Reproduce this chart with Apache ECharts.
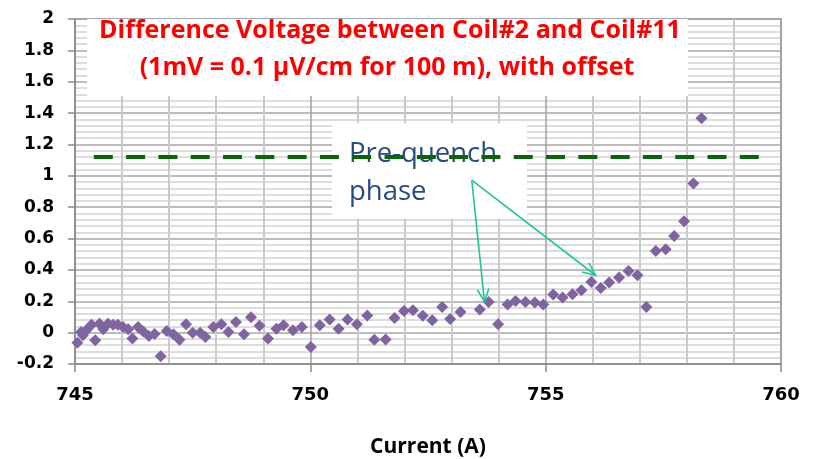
<!DOCTYPE html>
<html>
<head>
<meta charset="utf-8">
<script src="https://cdn.jsdelivr.net/npm/echarts@6/dist/echarts.min.js"></script>
<style>
  html, body { margin: 0; padding: 0; background: #ffffff; }
  #chart { width: 813px; height: 459px; }
</style>
</head>
<body>
<div id="chart"></div>
<script>
// Coil current (A) and difference voltage (mV, offset applied)
const current = [745.05, 745.13, 745.17, 745.24, 745.35, 745.43, 745.52, 745.60, 745.70, 745.81,
  745.91, 746.02, 746.13, 746.22, 746.34, 746.45, 746.57, 746.69, 746.82, 746.95,
  747.09, 747.22, 747.36, 747.50, 747.66, 747.77, 747.94, 748.11, 748.26, 748.42,
  748.59, 748.74, 748.92, 749.10, 749.28, 749.43, 749.63, 749.82, 750.01, 750.20,
  750.41, 750.60, 750.79, 750.99, 751.21, 751.36, 751.60, 751.79, 751.99, 752.18,
  752.39, 752.59, 752.80, 752.97, 753.19, 753.60, 753.79, 753.99, 754.19, 754.36,
  754.57, 754.77, 754.95, 755.16, 755.36, 755.57, 755.76, 755.97, 756.17, 756.35,
  756.56, 756.76, 756.95, 757.14, 757.34, 757.55, 757.73, 757.94, 758.14, 758.31];
const voltage = [-0.064, 0.004, -0.017, 0.015, 0.051, -0.049, 0.057, 0.021, 0.057, 0.051,
  0.051, 0.036, 0.021, -0.038, 0.036, 0.008, -0.022, -0.008, -0.151, 0.010,
  -0.011, -0.045, 0.053, 0.000, 0.000, -0.028, 0.036, 0.053, 0.004, 0.068,
  -0.011, 0.098, 0.044, -0.038, 0.025, 0.047, 0.015, 0.036, -0.092, 0.047,
  0.083, 0.025, 0.083, 0.053, 0.110, -0.045, -0.043, 0.093, 0.138, 0.142,
  0.108, 0.079, 0.163, 0.087, 0.132, 0.147, 0.195, 0.053, 0.179, 0.202,
  0.195, 0.192, 0.179, 0.243, 0.224, 0.245, 0.270, 0.323, 0.285, 0.319,
  0.351, 0.393, 0.366, 0.163, 0.521, 0.532, 0.617, 0.711, 0.951, 1.367];

// Quench detection threshold
const thresholdX = [745.4, 759.6];
const thresholdY = 1.12;

// Annotation arrows (data coordinates)
const arrowFrom = [753.43, 0.973];
const arrowTargets = [[753.70, 0.196], [756.06, 0.366]];

const titleLines = ['Difference Voltage between Coil#2 and Coil#11',
                    '(1mV = 0.1 \u03bcV/cm for 100 m), with offset'];
const noteLines = ['Pre-quench', 'phase'];
const xAxisTitle = 'Current (A)';

const points = current.map((c, i) => [c, voltage[i]]);

const chart = echarts.init(document.getElementById('chart'), null, { renderer: 'canvas' });
const FONT = '"Open Sans", sans-serif';
const TICK_FONT = '"DejaVu Sans", sans-serif';

chart.setOption({
  backgroundColor: '#ffffff',
  animation: false,
  grid: {
    left: 75, right: 32, top: 19, bottom: 95,
    containLabel: false, outerBoundsMode: 'none',
    show: true, borderColor: '#7393C6', borderWidth: 1.5, backgroundColor: 'transparent'
  },
  xAxis: {
    type: 'value', min: 745, max: 760, interval: 5,
    name: xAxisTitle, nameLocation: 'middle', nameGap: 73,
    nameTextStyle: { fontFamily: FONT, fontWeight: 'bold', fontSize: 21, color: '#000' },
    axisLine: { show: true, onZero: false, lineStyle: { color: '#8A8A8A', width: 1.5 } },
    axisTick: { show: true, inside: false, length: 8, lineStyle: { color: '#8A8A8A', width: 1.5 } },
    axisLabel: { margin: 22, fontFamily: TICK_FONT, fontWeight: 'bold', fontSize: 18, color: '#000' },
    splitLine: { show: true, lineStyle: { color: '#A0A0A0', width: 1.5 } },
    minorTick: { show: false, splitNumber: 5 },
    minorSplitLine: { show: true, lineStyle: { color: '#CACACA', width: 2 } }
  },
  yAxis: {
    type: 'value', min: -0.2, max: 2, interval: 0.2,
    axisLine: { show: true, onZero: false, lineStyle: { color: '#8A8A8A', width: 1.5 } },
    axisTick: { show: true, inside: false, length: 7, lineStyle: { color: '#8A8A8A', width: 1.5 } },
    axisLabel: {
      margin: 21, fontFamily: TICK_FONT, fontWeight: 'bold', fontSize: 17, color: '#000',
      formatter: v => String(Math.round(v * 10) / 10)
    },
    splitLine: { show: true, lineStyle: { color: '#A6A6A6', width: 1.5 } },
    minorTick: { show: false, splitNumber: 5 },
    minorSplitLine: { show: true, lineStyle: { color: '#D2D2D2', width: 1.5 } }
  },
  series: [
    {
      name: 'Difference voltage',
      type: 'scatter',
      data: points,
      symbol: 'diamond',
      symbolSize: 12,
      itemStyle: { color: '#8064A2', opacity: 1 },
      z: 4
    },
    {
      name: 'Threshold',
      type: 'line',
      data: thresholdX.map(x => [x, thresholdY]),
      symbol: 'none',
      lineStyle: { color: '#086608', width: 4, type: [19, 13.3] },
      z: 6
    }
  ],
  graphic: [
    {
      type: 'rect', z: 5, shape: { x: 87, y: 19, width: 601, height: 77 },
      style: { fill: '#ffffff' }
    },
    {
      type: 'text', z: 5, x: 390, y: 31,
      style: {
        text: titleLines[0], fill: '#FF0000', fontFamily: FONT, fontWeight: 'bold',
        fontSize: 25, align: 'center', verticalAlign: 'middle'
      }
    },
    {
      type: 'text', z: 5, x: 387, y: 68,
      style: {
        text: titleLines[1], fill: '#FF0000', fontFamily: FONT, fontWeight: 'bold',
        fontSize: 25, align: 'center', verticalAlign: 'middle'
      }
    },
    {
      type: 'rect', z: 5, shape: { x: 332, y: 123, width: 195, height: 96 },
      style: { fill: '#ffffff' }
    },
    {
      type: 'text', z: 5, x: 349, y: 154,
      style: {
        text: noteLines[0], fill: '#264C80', fontFamily: FONT,
        fontSize: 27.5, align: 'left', verticalAlign: 'middle'
      }
    },
    {
      type: 'text', z: 5, x: 349, y: 192,
      style: {
        text: noteLines[1], fill: '#264C80', fontFamily: FONT,
        fontSize: 27.5, align: 'left', verticalAlign: 'middle'
      }
    }
  ]
});

// Arrows from the note to the data, positioned through the chart's own scales
function drawArrows() {
  const start = chart.convertToPixel({ gridIndex: 0 }, arrowFrom);
  const elements = [];
  arrowTargets.forEach((t, i) => {
    const tip = chart.convertToPixel({ gridIndex: 0 }, t);
    const dx = tip[0] - start[0], dy = tip[1] - start[1];
    const len = Math.hypot(dx, dy);
    const ux = dx / len, uy = dy / len;
    const head = 14, ang = 24 * Math.PI / 180;
    const arm = s => {
      const c = Math.cos(s * ang), sn = Math.sin(s * ang);
      const rx = ux * c - uy * sn, ry = ux * sn + uy * c;
      return [tip[0] - head * rx, tip[1] - head * ry];
    };
    elements.push({
      type: 'polyline', id: 'arrowLine' + i, z: 7,
      shape: { points: [start, tip] },
      style: { stroke: '#22C59A', lineWidth: 1.6, fill: null }
    });
    elements.push({
      type: 'polyline', id: 'arrowHead' + i, z: 7,
      shape: { points: [arm(1), tip, arm(-1)] },
      style: { stroke: '#22C59A', lineWidth: 1.6, fill: null }
    });
  });
  chart.setOption({ graphic: elements });
}
drawArrows();
</script>
</body>
</html>
